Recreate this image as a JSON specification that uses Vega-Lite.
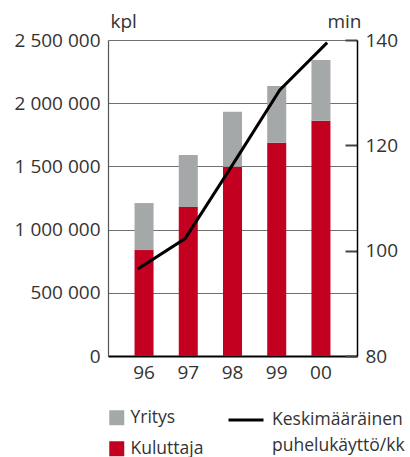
{
  "$schema": "https://vega.github.io/schema/vega-lite/v6.json",
  "width": 249,
  "height": 316,
  "autosize": "none",
  "padding": {"left": 108, "top": 40, "right": 53, "bottom": 101},
  "background": "white",
  "config": {
    "view": {"stroke": null},
    "font": "Open Sans",
    "axis": {"labelFont": "Open Sans", "titleFont": "Open Sans", "labelColor": "#333333", "titleColor": "#333333", "labelFontSize": 19, "titleFontSize": 19, "titleFontWeight": "normal"},
    "legend": {"labelFont": "Open Sans", "labelFontSize": 17.5, "labelColor": "#333333", "padding": 0, "labelLimit": 300}
  },
  "datasets": {
    "bars": [
      {"vuosi": "96", "tyyppi": "Kuluttaja", "kpl": 838000},
      {"vuosi": "96", "tyyppi": "Yritys", "kpl": 372000},
      {"vuosi": "97", "tyyppi": "Kuluttaja", "kpl": 1179000},
      {"vuosi": "97", "tyyppi": "Yritys", "kpl": 411000},
      {"vuosi": "98", "tyyppi": "Kuluttaja", "kpl": 1497000},
      {"vuosi": "98", "tyyppi": "Yritys", "kpl": 436000},
      {"vuosi": "99", "tyyppi": "Kuluttaja", "kpl": 1687000},
      {"vuosi": "99", "tyyppi": "Yritys", "kpl": 449000},
      {"vuosi": "00", "tyyppi": "Kuluttaja", "kpl": 1861000},
      {"vuosi": "00", "tyyppi": "Yritys", "kpl": 481000}
    ],
    "line": [
      {"vuosi": "96", "min": 96.5},
      {"vuosi": "97", "min": 102.3},
      {"vuosi": "98", "min": 116.3},
      {"vuosi": "99", "min": 130.5},
      {"vuosi": "00", "min": 139.5}
    ]
  },
  "layer": [
    {
      "data": {"name": "bars"},
      "mark": {"type": "bar"},
      "encoding": {
        "x": {
          "field": "vuosi", "type": "nominal", "sort": null,
          "scale": {"paddingInner": 0.57, "paddingOuter": 0.6},
          "axis": {"title": null, "labelAngle": 0, "ticks": false, "domainColor": "#000000", "domainWidth": 2, "labelPadding": 7, "labelBaseline": "top"}
        },
        "y": {
          "field": "kpl", "type": "quantitative", "stack": "zero",
          "scale": {"domain": [0, 2500000], "nice": false},
          "axis": {
            "orient": "left", "values": [0, 500000, 1000000, 1500000, 2000000, 2500000],
            "labelExpr": "replace(format(datum.value, ','), regexp(',', 'g'), '\u00a0')",
            "ticks": false, "labelPadding": 8, "grid": true, "gridColor": "#707070", "gridWidth": 1.2,
            "domainColor": "#555555", "domainWidth": 1.2,
            "title": "kpl", "titleAngle": 0, "titleAlign": "left", "titleBaseline": "alphabetic", "titleX": 2, "titleY": -13
          }
        },
        "color": {
          "field": "tyyppi", "type": "nominal",
          "scale": {"domain": ["Yritys", "Kuluttaja"], "range": ["#a5a8a8", "#c40020"]},
          "legend": {"title": null, "orient": "none", "legendX": 0, "legendY": 369, "symbolType": "square", "symbolSize": 225, "symbolStrokeWidth": 0, "labelOffset": 5, "rowPadding": 12, "direction": "vertical"}
        },
        "order": {"field": "tyyppi", "sort": "ascending"}
      }
    },
    {
      "data": {"name": "line"},
      "mark": {"type": "line", "strokeWidth": 3},
      "encoding": {
        "x": {"field": "vuosi", "type": "nominal", "sort": null, "scale": {"type": "point", "padding": 0.63}, "axis": null},
        "y": {
          "field": "min", "type": "quantitative",
          "scale": {"domain": [80, 140], "nice": false, "zero": false},
          "axis": {
            "orient": "right", "values": [80, 100, 120, 140], "grid": false,
            "tickSize": -12, "tickWidth": 2, "tickColor": "#444444", "domainColor": "#000000", "domainWidth": 1.5,
            "labelPadding": 20,
            "title": "min", "titleAngle": 0, "titleAlign": "right", "titleBaseline": "alphabetic", "titleX": 4, "titleY": -13
          }
        },
        "stroke": {
          "datum": "Keskimääräinen puhelukäyttö/kk",
          "scale": {"range": ["#000000"]},
          "legend": {"title": null, "orient": "none", "legendX": 119, "legendY": 361, "symbolType": "stroke", "symbolSize": 1225, "symbolStrokeWidth": 3, "labelOffset": 7, "labelExpr": "['Keskimääräinen', 'puhelukäyttö/kk']",
            "encode": {"labels": {"update": {"lineHeight": {"value": 26}}}}}
        }
      }
    }
  ],
  "resolve": {"scale": {"x": "independent", "y": "independent"}}
}
